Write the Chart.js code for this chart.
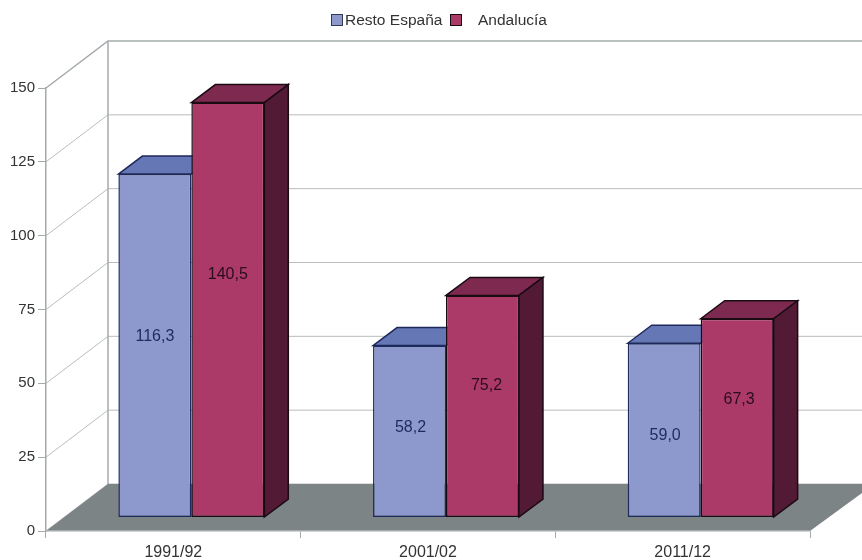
<!DOCTYPE html>
<html>
<head>
<meta charset="utf-8">
<style>
  html, body { margin: 0; padding: 0; background: #fff; }
  canvas { display: block; }
</style>
<script src="https://cdn.jsdelivr.net/npm/chart.js@4"></script>
</head>
<body>
<canvas id="chart" width="862" height="560"></canvas>
<script>
var categories = ["1991/92", "2001/02", "2011/12"];
var restoEspana = [116.3, 58.2, 59.0];
var andalucia = [140.5, 75.2, 67.3];
var seriesNames = ["Resto España", "Andalucía"];

// the fake 3d room
var depthX = 62, depthY = 47;
var barDepthX = 24, barDepthY = 18;
var barShiftX = 18, barShiftY = 13.5;
var fontName = '"Liberation Sans", Arial, sans-serif';

var blue = { front: "#8d99cc", top: "#6577b5", line: "#1f2a5c" };
var red = { front: "#ab3a68", top: "#7e2a50", side: "#521a35", line: "#1a0a12" };

// the labels do not sit in the middle of the bars in the original
var labelLift = [[-9, -4, 5], [-35, -21, -18]];
var labelNudge = [[0, 1, 1], [0, 4, 2]];

function poly(ctx, pts, fill, stroke) {
    ctx.beginPath();
    ctx.moveTo(pts[0][0], pts[0][1]);
    for (var i = 1; i < pts.length; i++) ctx.lineTo(pts[i][0], pts[i][1]);
    ctx.closePath();
    if (fill) { ctx.fillStyle = fill; ctx.fill(); }
    if (stroke) { ctx.strokeStyle = stroke; ctx.lineWidth = 1.5; ctx.stroke(); }
}

var room = {
    id: "room",
    beforeDraw: function(chart) {
        var ctx = chart.ctx, a = chart.chartArea, y = chart.scales.y;
        var w = chart.width;
        ctx.save();
        y.ticks.forEach(function(t) {
            var py = y.getPixelForValue(t.value);
            ctx.beginPath();
            ctx.moveTo(a.left, py);
            ctx.lineTo(a.left + depthX, py - depthY);
            ctx.lineTo(w, py - depthY);
            ctx.strokeStyle = t.value == 150 ? "#a4aaac" : "#b8bdbd";
            ctx.lineWidth = t.value == 150 ? 1.5 : 1;
            ctx.stroke();
        });
        ctx.beginPath();
        ctx.moveTo(a.left + depthX, a.top - depthY);
        ctx.lineTo(a.left + depthX, a.bottom - depthY);
        ctx.strokeStyle = "#a4aaac";
        ctx.lineWidth = 1.5;
        ctx.stroke();
        poly(ctx, [
            [a.left, a.bottom],
            [a.left + depthX, a.bottom - depthY],
            [w, a.bottom - depthY],
            [w, a.bottom - 38],
            [a.right, a.bottom]
        ], "#7d8485");
        ctx.restore();
    },
    beforeDatasetsDraw: function(chart) {
        var ctx = chart.ctx;
        var m0 = chart.getDatasetMeta(0).data, m1 = chart.getDatasetMeta(1).data;
        ctx.save();
        ctx.translate(barShiftX, -barShiftY);
        m0.forEach(function(b) {
            var l = b.x - b.width / 2, r = b.x + b.width / 2;
            poly(ctx, [[l, b.y], [l + barDepthX, b.y - barDepthY], [r + barDepthX, b.y - barDepthY], [r, b.y]], blue.top, blue.line);
        });
        m1.forEach(function(b) {
            var l = b.x - b.width / 2, r = b.x + b.width / 2;
            poly(ctx, [[l, b.y], [l + barDepthX, b.y - barDepthY], [r + barDepthX, b.y - barDepthY], [r, b.y]], red.top, red.line);
            poly(ctx, [[r, b.y], [r + barDepthX, b.y - barDepthY], [r + barDepthX, b.base - barDepthY], [r, b.base]], red.side, red.line);
        });
        // stays translated so the bars land on the floor, restored below
    },
    afterDatasetsDraw: function(chart) {
        var ctx = chart.ctx;
        ctx.restore();
        ctx.save();
        ctx.font = "16px " + fontName;
        ctx.textAlign = "center";
        ctx.textBaseline = "middle";
        chart.data.datasets.forEach(function(ds, s) {
            chart.getDatasetMeta(s).data.forEach(function(b, i) {
                ctx.fillStyle = s == 0 ? "#1f2a5c" : "#2a0d1c";
                var mid = (b.y + b.base) / 2 - barShiftY;
                ctx.fillText(ds.data[i].toFixed(1).replace(".", ","), b.x + barShiftX + labelNudge[s][i], mid + labelLift[s][i]);
            });
        });
        ctx.restore();
    },
    afterDraw: function(chart) {
        var ctx = chart.ctx;
        ctx.save();
        ctx.font = "15.5px " + fontName;
        ctx.textBaseline = "middle";
        ctx.lineWidth = 1;
        ctx.fillStyle = blue.front;
        ctx.strokeStyle = "#333a55";
        ctx.fillRect(331.5, 14.5, 11, 11);
        ctx.strokeRect(331.5, 14.5, 11, 11);
        ctx.fillStyle = red.front;
        ctx.strokeStyle = red.line;
        ctx.fillRect(450.5, 14.5, 11, 11);
        ctx.strokeRect(450.5, 14.5, 11, 11);
        ctx.fillStyle = "#333";
        ctx.fillText(seriesNames[0], 345, 20.5);
        ctx.fillText(seriesNames[1], 478, 20.5);
        ctx.restore();
    }
};

new Chart(document.getElementById("chart").getContext("2d"), {
    type: "bar",
    data: {
        labels: categories,
        datasets: [{
            label: seriesNames[0],
            data: restoEspana,
            backgroundColor: blue.front,
            borderColor: blue.line,
            borderWidth: 1.5,
            borderSkipped: false
        }, {
            label: seriesNames[1],
            data: andalucia,
            backgroundColor: red.front,
            borderColor: red.line,
            borderWidth: 1.5,
            borderSkipped: false
        }]
    },
    options: {
        responsive: false,
        animation: false,
        layout: { padding: { top: 88, right: 52, left: 0, bottom: 0 } },
        plugins: {
            legend: { display: false },
            tooltip: { enabled: false }
        },
        datasets: { bar: { categoryPercentage: 0.573, barPercentage: 1, clip: false } },
        scales: {
            x: {
                grid: { drawOnChartArea: false, color: "#a4aaac", tickLength: 7 },
                border: { color: "#a4aaac", width: 1.5 },
                ticks: { color: "#333", font: { family: fontName, size: 16 }, padding: 5, maxRotation: 0, autoSkip: false },
                afterFit: function(s) { s.height = 29; }
            },
            y: {
                min: 0,
                max: 150,
                grid: { drawOnChartArea: false, color: "#a4aaac", tickLength: 8 },
                border: { color: "#a4aaac", width: 1.5 },
                ticks: { stepSize: 25, color: "#333", font: { family: fontName, size: 15 }, padding: 3 },
                afterFit: function(s) { s.width = 46; }
            }
        }
    },
    plugins: [room]
});
</script>
</body>
</html>
